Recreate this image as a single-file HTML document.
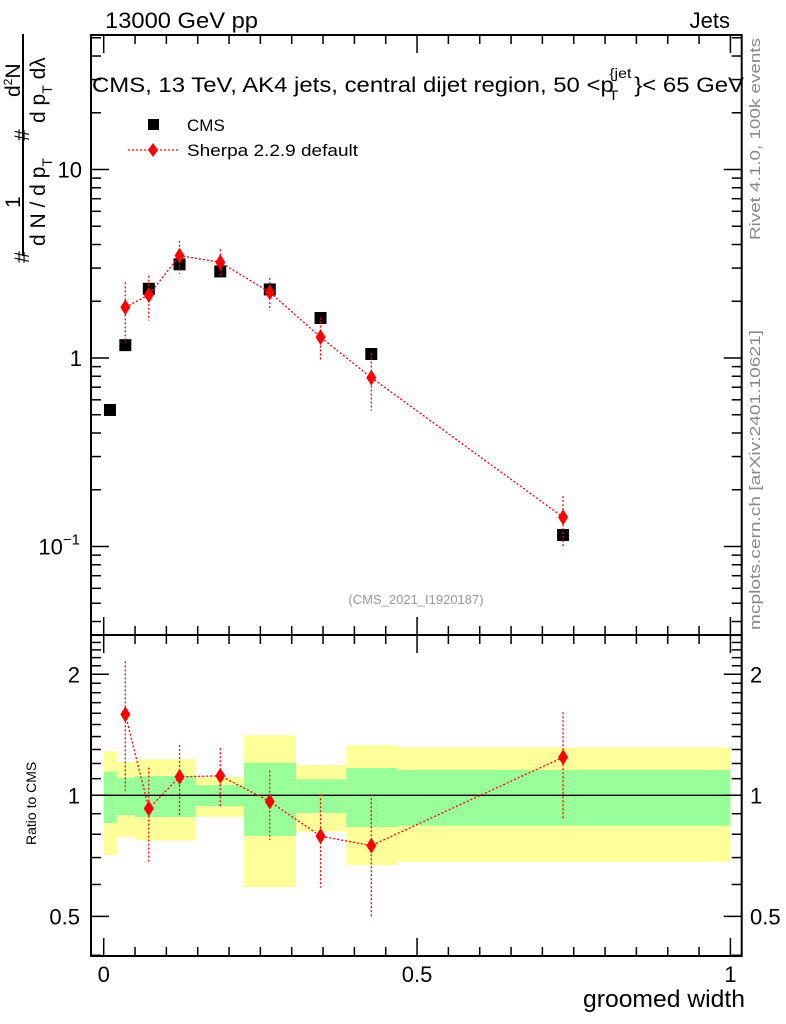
<!DOCTYPE html>
<html><head><meta charset="utf-8"><style>
html,body{margin:0;padding:0;background:#fff}
svg{display:block;font-family:"Liberation Sans",sans-serif}
</style></head><body>
<svg id="chart" width="786" height="1024" viewBox="0 0 786 1024" xmlns="http://www.w3.org/2000/svg">
<g id="bands"></g>
<g id="axes"></g>
<g id="series"></g>
<text x="105" y="28" font-size="22" textLength="153" lengthAdjust="spacingAndGlyphs">13000 GeV pp</text>
<text x="730" y="28" font-size="22" text-anchor="end">Jets</text>
<text x="92" y="92" font-size="21" textLength="652" lengthAdjust="spacingAndGlyphs">CMS, 13 TeV, AK4 jets, central dijet region, 50 &lt;p<tspan font-size="14" dy="-14" dx="-4">{jet</tspan><tspan font-size="14" dy="22" dx="-20">T</tspan><tspan dy="-8" dx="14">}&lt; 65 GeV</tspan></text>
<g>
<rect x="148" y="119" width="11" height="11" fill="#000"/>
<text x="187" y="131" font-size="17">CMS</text>
<line x1="128" y1="150" x2="180" y2="150" stroke="red" stroke-width="1.3" stroke-dasharray="2,2"/>
<path d="M153,143 L158,150 L153,157 L148,150 Z" fill="red"/>
<text x="187" y="156" font-size="17" textLength="171" lengthAdjust="spacingAndGlyphs">Sherpa 2.2.9 default</text>
</g>
<text x="416" y="604" font-size="13" fill="#999" text-anchor="middle">(CMS_2021_I1920187)</text>
<text transform="translate(760,240) rotate(-90)" font-size="15" fill="#888" textLength="202" lengthAdjust="spacingAndGlyphs">Rivet 4.1.0,  100k events</text>
<text transform="translate(760,630) rotate(-90)" font-size="15" fill="#888" textLength="300" lengthAdjust="spacingAndGlyphs">mcplots.cern.ch [arXiv:2401.10621]</text>
<text transform="translate(36,845) rotate(-90)" font-size="14">Ratio to CMS</text>
<text x="583" y="1007" font-size="24" textLength="162" lengthAdjust="spacingAndGlyphs">groomed width</text>
<g font-size="21">
<line x1="23" y1="34" x2="23" y2="256" stroke="#000" stroke-width="2"/>
<text transform="translate(29,263) rotate(-90)">#</text>
<text transform="translate(20,208) rotate(-90)">1</text>
<text transform="translate(45,246) rotate(-90)">d N / d p<tspan font-size="14" dy="7">T</tspan></text>
<text transform="translate(29,141) rotate(-90)">#</text>
<text transform="translate(20,97) rotate(-90)">d<tspan font-size="12" dy="-8">2</tspan><tspan dy="8">N</tspan></text>
<text transform="translate(45,123) rotate(-90)">d p<tspan font-size="14" dy="7">T</tspan><tspan dy="-7">  dλ</tspan></text>
</g>
</svg>
<script>
const edges=[0,0.021,0.05,0.097,0.147,0.224,0.307,0.387,0.469,1.0];
const cmsX=[0.010,0.0345,0.072,0.121,0.186,0.265,0.346,0.427,0.733];
const cmsY=[0.53,1.17,2.33,3.14,2.88,2.31,1.63,1.05,0.115];
const sherpaX=[0.0345,0.072,0.121,0.186,0.265,0.346,0.427,0.733];
const sherpaY=[1.86,2.16,3.49,3.22,2.23,1.29,0.787,0.143];
const sherpaUp=[2.52,2.73,4.19,3.77,2.66,1.64,1.056,0.185];
const sherpaDn=[1.2,1.58,2.80,2.69,1.79,0.96,0.525,0.0998];
const yelTop=[1.287,1.21,1.229,1.229,1.11,1.41,1.19,1.332,1.316];
const grnTop=[1.145,1.106,1.117,1.117,1.059,1.205,1.096,1.169,1.156];
const grnBot=[0.853,0.893,0.883,0.883,0.94,0.793,0.904,0.834,0.84];
const yelBot=[0.71,0.788,0.772,0.772,0.885,0.591,0.812,0.67,0.684];
const xTickLabels=["0","0.5","1"];

const NS="http://www.w3.org/2000/svg";
const L=91,R=741.7,T=35,M=635,B=956;
const sx=v=>103.7+626.7*v;
const sy=v=>358-188.5*Math.log10(v);
const ry=v=>795.3-402*Math.log10(v);
function mk(parent,tag,attrs){const e=document.createElementNS(NS,tag);for(const k in attrs)e.setAttribute(k,attrs[k]);document.getElementById(parent).appendChild(e);return e;}

for(let i=0;i<yelTop.length;i++){
  const x0=sx(edges[i]),x1=sx(edges[i+1]);
  let e=mk('bands','rect',{x:x0,y:ry(yelTop[i]),width:x1-x0,height:ry(yelBot[i])-ry(yelTop[i]),fill:'#ffff99'});
  
  
  e=mk('bands','rect',{x:x0,y:ry(grnTop[i]),width:x1-x0,height:ry(grnBot[i])-ry(grnTop[i]),fill:'#99ff99'});
  
  
}
mk('axes','rect',{x:L,y:T,width:R-L,height:M-T,fill:'none',stroke:'#000','stroke-width':2});
mk('axes','rect',{x:L,y:M,width:R-L,height:B-M,fill:'none',stroke:'#000','stroke-width':2});
mk('axes','line',{x1:L,x2:R,y1:ry(1),y2:ry(1),stroke:'#000','stroke-width':1.3});
for(let k=0;k<=20;k++){
  const v=k*0.05,x=sx(v),maj=(k%10===0),len=maj?18:9;
  [[T,1],[M,-1],[M,1],[B,-1]].forEach(([y0,d])=>{mk('axes','line',{x1:x,x2:x,y1:y0,y2:y0+d*len,stroke:'#000','stroke-width':1.5});});
}
xTickLabels.forEach((t,i)=>{const e=mk('axes','text',{x:sx(i*0.5),y:982,'font-size':22,'text-anchor':'middle'});e.textContent=t;
  
  });
for(let d=-2;d<=1;d++)for(let m=1;m<=9;m++){
  const v=m*Math.pow(10,d),y=sy(v);if(y<T||y>M)continue;
  const len=m===1?18:10;
  mk('axes','line',{x1:L,x2:L+len,y1:y,y2:y,stroke:'#000','stroke-width':1.5});
  mk('axes','line',{x1:R,x2:R-len,y1:y,y2:y,stroke:'#000','stroke-width':1.5});
}
[[10,"10"],[1,"1"]].forEach(([v,t])=>{const e=mk('axes','text',{x:82,y:sy(v)+8,'font-size':22,'text-anchor':'end'});e.textContent=t;
  
  });
{const e=mk('axes','text',{x:80,y:sy(0.1)+8,'font-size':22,'text-anchor':'end'});e.innerHTML='10<tspan font-size="15" dy="-10">−1</tspan>';
  
  }
for(let k=4;k<=25;k++){
  const v=k/10,y=ry(v);if(y<M||y>B)continue;
  const len=(k===5||k===10||k===20)?18:10;
  mk('axes','line',{x1:L,x2:L+len,y1:y,y2:y,stroke:'#000','stroke-width':1.5});
  mk('axes','line',{x1:R,x2:R-len,y1:y,y2:y,stroke:'#000','stroke-width':1.5});
}
[[2,"2"],[1,"1"],[0.5,"0.5"]].forEach(([v,t])=>{
  let e=mk('axes','text',{x:80,y:ry(v)+8,'font-size':22,'text-anchor':'end'});e.textContent=t;
  
  
  e=mk('axes','text',{x:750,y:ry(v)+8,'font-size':22});e.textContent=t;
  
  
});
cmsX.forEach((x,i)=>{const e=mk('series','rect',{x:sx(x)-6,y:sy(cmsY[i])-6,width:12,height:12,fill:'#000'});
  
  });
const dash={stroke:'red','stroke-width':1.3,'stroke-dasharray':'2,2',fill:'none'};
function diamond(g,x,y){return mk(g,'path',{d:`M${x},${y-8} L${x+5},${y} L${x},${y+8} L${x-5},${y} Z`,fill:'red'});}
let p=mk('series','polyline',Object.assign({points:sherpaX.map((x,i)=>sx(x)+','+sy(sherpaY[i])).join(' ')},dash));


const ratioY=sherpaY.map((v,i)=>v/cmsY[cmsX.indexOf(sherpaX[i])]);
p=mk('series','polyline',Object.assign({points:sherpaX.map((x,i)=>sx(x)+','+ry(ratioY[i])).join(' ')},dash));


sherpaX.forEach((x,i)=>{
  const X=sx(x);
  let e=mk('series','line',Object.assign({x1:X,x2:X,y1:sy(sherpaUp[i]),y2:sy(sherpaDn[i])},dash));
  
  
  e=diamond('series',X,sy(sherpaY[i]));
  
  
  const c=cmsY[cmsX.indexOf(x)];
  e=mk('series','line',Object.assign({x1:X,x2:X,y1:ry(sherpaUp[i]/c),y2:ry(sherpaDn[i]/c)},dash));
  
  
  e=diamond('series',X,ry(ratioY[i]));
  
  
});
</script>
</body></html>
